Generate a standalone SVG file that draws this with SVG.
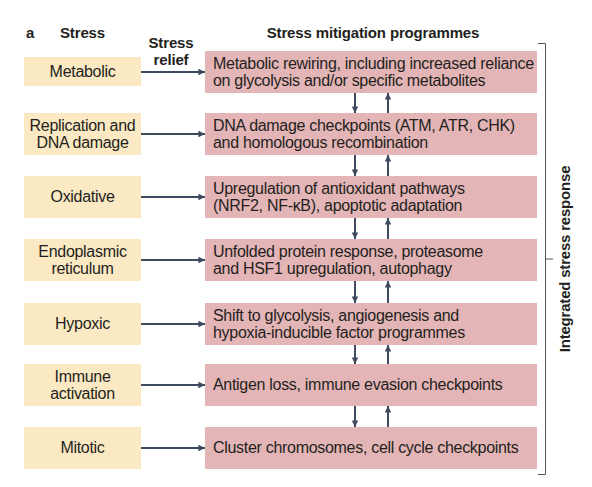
<svg xmlns="http://www.w3.org/2000/svg" width="592" height="487" viewBox="0 0 592 487">
<defs>
<marker id="ah" viewBox="0 0 10 10" refX="10" refY="5" markerWidth="3.3" markerHeight="3.3" orient="auto" markerUnits="strokeWidth">
<path d="M0,0 L10,5 L0,10 z" fill="#3e4a5d"/>
</marker>
<style>
text{font-family:"Liberation Sans",Arial,sans-serif;fill:#231f20}
.h{font-weight:bold;font-size:15px;letter-spacing:-0.15px}
.t{font-size:16px;letter-spacing:-0.3px}
.c{text-anchor:middle}
.y{fill:#fbe9c3}
.p{fill:#e3b5b6}
.a{stroke:#3e4a5d;stroke-width:2;fill:none;marker-end:url(#ah)}
.br{stroke:#555;stroke-width:1;fill:none}
</style>
</defs>
<rect width="592" height="487" fill="#fff"/>
<g id="headers">
<text class="h" x="26" y="38">a</text>
<text class="h" x="60" y="38">Stress</text>
<text class="h c" x="171" y="48">Stress</text>
<text class="h c" x="171" y="65">relief</text>
<text class="h c" x="373" y="38">Stress mitigation programmes</text>
</g>
<g id="stress-metabolic"><rect class="y" x="24" y="57" width="117" height="29"/><text class="t c" x="82.5" y="77">Metabolic</text></g>
<g id="stress-replication"><rect class="y" x="24" y="113" width="117" height="42"/><text class="t c" x="82.5" y="131">Replication and</text><text class="t c" x="82.5" y="148">DNA damage</text></g>
<g id="stress-oxidative"><rect class="y" x="24" y="176" width="117" height="42"/><text class="t c" x="82.5" y="202">Oxidative</text></g>
<g id="stress-er"><rect class="y" x="24" y="239" width="117" height="42"/><text class="t c" x="82.5" y="257">Endoplasmic</text><text class="t c" x="82.5" y="274">reticulum</text></g>
<g id="stress-hypoxic"><rect class="y" x="24" y="303" width="117" height="42"/><text class="t c" x="82.5" y="329">Hypoxic</text></g>
<g id="stress-immune"><rect class="y" x="24" y="364" width="117" height="42"/><text class="t c" x="82.5" y="382">Immune</text><text class="t c" x="82.5" y="399">activation</text></g>
<g id="stress-mitotic"><rect class="y" x="24" y="427" width="117" height="42"/><text class="t c" x="82.5" y="453">Mitotic</text></g>

<g id="prog-metabolic"><rect class="p" x="205" y="51" width="332" height="42"/><text class="t" x="213" y="69">Metabolic rewiring, including increased reliance</text><text class="t" x="213" y="86">on glycolysis and/or specific metabolites</text></g>
<g id="prog-dna"><rect class="p" x="205" y="113" width="332" height="42"/><text class="t" x="213" y="131">DNA damage checkpoints (ATM, ATR, CHK)</text><text class="t" x="213" y="148">and homologous recombination</text></g>
<g id="prog-oxidative"><rect class="p" x="205" y="176" width="332" height="42"/><text class="t" x="213" y="194">Upregulation of antioxidant pathways</text><text class="t" x="213" y="211">(NRF2, NF-κB), apoptotic adaptation</text></g>
<g id="prog-er"><rect class="p" x="205" y="239" width="332" height="42"/><text class="t" x="213" y="257">Unfolded protein response, proteasome</text><text class="t" x="213" y="274">and HSF1 upregulation, autophagy</text></g>
<g id="prog-hypoxic"><rect class="p" x="205" y="303" width="332" height="42"/><text class="t" x="213" y="321">Shift to glycolysis, angiogenesis and</text><text class="t" x="213" y="338">hypoxia-inducible factor programmes</text></g>
<g id="prog-immune"><rect class="p" x="205" y="364" width="332" height="42"/><text class="t" x="213" y="390">Antigen loss, immune evasion checkpoints</text></g>
<g id="prog-mitotic"><rect class="p" x="205" y="427" width="332" height="42"/><text class="t" x="213" y="453">Cluster chromosomes, cell cycle checkpoints</text></g>

<g id="connectors">
<path class="a" d="M141,72 H205"/>
<path class="a" d="M141,134 H205"/>
<path class="a" d="M141,197 H205"/>
<path class="a" d="M141,260 H205"/>
<path class="a" d="M141,324 H205"/>
<path class="a" d="M141,385 H205"/>
<path class="a" d="M141,448 H205"/>
<path class="a" d="M355,93 V113"/><path class="a" d="M388,113 V93"/>
<path class="a" d="M355,155 V176"/><path class="a" d="M388,176 V155"/>
<path class="a" d="M355,218 V239"/><path class="a" d="M388,239 V218"/>
<path class="a" d="M355,281 V303"/><path class="a" d="M388,303 V281"/>
<path class="a" d="M355,345 V364"/><path class="a" d="M388,364 V345"/>
<path class="a" d="M355,406 V427"/><path class="a" d="M388,427 V406"/>
</g>
<g id="isr">
<path class="br" d="M538,43.5 H545.5 V474.5 H538 M545.5,259 H553"/>
<text class="h c" style="letter-spacing:-0.2px" transform="translate(570,259) rotate(-90)">Integrated stress response</text>
</g>
</svg>
